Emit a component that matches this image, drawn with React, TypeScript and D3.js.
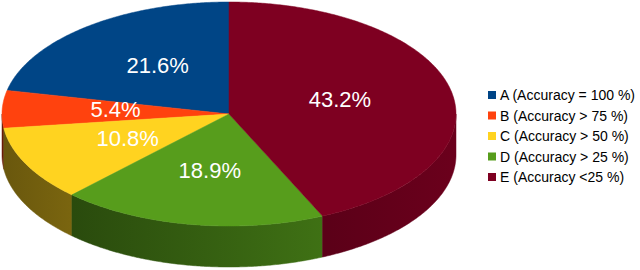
import React, { useRef, useEffect } from 'react'
import * as d3 from 'd3'

const categories = ['A', 'B', 'C', 'D', 'E']
const legendLabels = [
  'A (Accuracy = 100 %)',
  'B (Accuracy > 75 %)',
  'C (Accuracy > 50 %)',
  'D (Accuracy > 25 %)',
  'E (Accuracy <25 %)',
]
const counts = [8, 2, 4, 7, 16]
const colors = ['#004586', '#ff420e', '#ffd320', '#579d1c', '#7e0021']

const W = 640
const H = 270
const cx = 229
const cy = 114
const rx = 227
const ry = 112
const depth = 41

const App = () => {
  const ref = useRef<SVGSVGElement | null>(null)

  useEffect(() => {
    if (!ref.current) return
    const svg = d3.select(ref.current)
    svg.selectAll('*').remove()

    const color = d3.scaleOrdinal<string, string>().domain(categories).range(colors)
    const total = d3.sum(counts)

    // counter-clockwise from 12 o'clock, like the original
    const arcs = d3.pie<number>().sort(null).startAngle(0).endAngle(-2 * Math.PI)(counts)

    const px = (a: number) => cx + rx * Math.sin(a)
    const py = (a: number, off = 0) => cy - ry * Math.cos(a) + off

    const norm = (a: number) => {
      while (a < 0) a += 2 * Math.PI
      return a
    }

    const slices = arcs.map((d, i) => {
      const lo = Math.min(d.startAngle, d.endAngle)
      const hi = Math.max(d.startAngle, d.endAngle)
      const shift = norm(lo) - lo
      return { i, key: categories[i], value: d.data, lo: lo + shift, hi: hi + shift }
    })

    // wall shading: darker on the left, lighter towards the right
    const defs = svg.append('defs')
    categories.forEach((c, i) => {
      const g = defs.append('linearGradient')
        .attr('id', 'wall' + i)
        .attr('gradientUnits', 'userSpaceOnUse')
        .attr('x1', cx - rx).attr('y1', 0)
        .attr('x2', cx + rx).attr('y2', 0)
      g.append('stop').attr('offset', '0%')
        .attr('stop-color', d3.interpolateRgb('#000', color(c))(0.41))
      g.append('stop').attr('offset', '100%')
        .attr('stop-color', d3.interpolateRgb('#000', color(c))(0.85))
    })

    // side walls
    const gWall = svg.append('g')
    slices.forEach(s => {
      const a0 = Math.max(s.lo, Math.PI / 2)
      const a1 = Math.min(s.hi, (3 * Math.PI) / 2)
      if (a1 <= a0) return
      const n = Math.max(2, Math.ceil((a1 - a0) / (Math.PI / 360)))
      const p = d3.path()
      for (let k = 0; k <= n; k++) {
        const a = a0 + ((a1 - a0) * k) / n
        if (k === 0) p.moveTo(px(a), py(a))
        else p.lineTo(px(a), py(a))
      }
      for (let k = n; k >= 0; k--) {
        const a = a0 + ((a1 - a0) * k) / n
        p.lineTo(px(a), py(a, depth))
      }
      p.closePath()
      gWall.append('path')
        .attr('d', p.toString())
        .attr('fill', `url(#wall${s.i})`)
        .attr('stroke', `url(#wall${s.i})`)
        .attr('stroke-width', 0.5)
    })

    // top faces
    const gTop = svg.append('g')
    slices.forEach(s => {
      const p = d3.path()
      p.moveTo(cx, cy)
      const n = Math.max(2, Math.ceil((s.hi - s.lo) / (Math.PI / 360)))
      for (let k = 0; k <= n; k++) {
        const a = s.lo + ((s.hi - s.lo) * k) / n
        p.lineTo(px(a), py(a))
      }
      p.closePath()
      gTop.append('path')
        .attr('d', p.toString())
        .attr('fill', color(s.key))
        .attr('stroke', color(s.key))
        .attr('stroke-width', 0.5)
    })

    // percentage labels
    const fmt = d3.format('.1%')
    slices.forEach(s => {
      const mid = (s.lo + s.hi) / 2
      svg.append('text')
        .attr('x', cx + 0.5 * rx * Math.sin(mid))
        .attr('y', cy - 2 - 0.53 * ry * Math.cos(mid))
        .attr('text-anchor', 'middle')
        .attr('dominant-baseline', 'central')
        .attr('fill', '#ffffff')
        .style('font-family', '"Liberation Sans", Arial, sans-serif')
        .style('font-size', '22px')
        .text(fmt(s.value / total))
    })

    // legend
    const legendY = d3.scalePoint<string>().domain(categories).range([95, 177])
    const gLeg = svg.append('g')
    categories.forEach((c, i) => {
      const y = legendY(c) as number
      gLeg.append('rect')
        .attr('x', 488)
        .attr('y', y - 4)
        .attr('width', 8)
        .attr('height', 8)
        .attr('fill', color(c))
      gLeg.append('text')
        .attr('x', 500)
        .attr('y', y)
        .attr('dominant-baseline', 'central')
        .attr('fill', '#000')
        .style('font-family', '"Liberation Sans", Arial, sans-serif')
        .style('font-size', '14px')
        .text(legendLabels[i])
    })
  }, [])

  return (
    <svg
      ref={ref}
      width={W}
      height={H}
      style={{ position: 'absolute', left: 0, top: 0, background: '#fff' }}
    />
  )
}

export default App
